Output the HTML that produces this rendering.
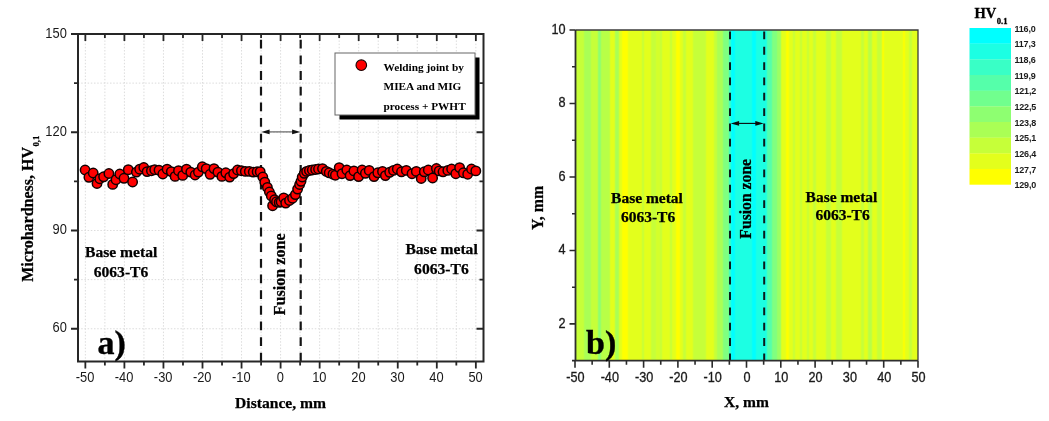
<!DOCTYPE html>
<html><head><meta charset="utf-8"><style>
html,body{margin:0;padding:0;background:#fff;width:1049px;height:421px;overflow:hidden;}
svg{display:block;filter:blur(0.3px);}
</style></head><body>
<svg width="1049" height="421" viewBox="0 0 1049 421">
<rect width="1049" height="421" fill="#fff"/>
<path d="M85.35 34 V361.5 M104.88 34 V361.5 M124.40 34 V361.5 M143.93 34 V361.5 M163.45 34 V361.5 M182.98 34 V361.5 M202.50 34 V361.5 M222.03 34 V361.5 M241.55 34 V361.5 M261.08 34 V361.5 M280.60 34 V361.5 M300.12 34 V361.5 M319.65 34 V361.5 M339.18 34 V361.5 M358.70 34 V361.5 M378.23 34 V361.5 M397.75 34 V361.5 M417.27 34 V361.5 M436.80 34 V361.5 M456.33 34 V361.5 M475.85 34 V361.5 M78 83.12 H483.5 M78 132.25 H483.5 M78 181.38 H483.5 M78 230.50 H483.5 M78 279.62 H483.5 M78 328.75 H483.5" stroke="#dcdcdc" stroke-width="1" stroke-dasharray="1.5 1.7" fill="none"/><line x1="261.0" y1="34" x2="261.0" y2="361.5" stroke="#141414" stroke-width="2.2" stroke-dasharray="8.8 6.85" stroke-dashoffset="9.85"/><line x1="300.7" y1="34" x2="300.7" y2="361.5" stroke="#141414" stroke-width="2.2" stroke-dasharray="8.8 6.85" stroke-dashoffset="9.85"/><line x1="268.6" y1="131.9" x2="293.09999999999997" y2="131.9" stroke="#555" stroke-width="1.1"/><path d="M261.3 131.9 L269.6 129.6 L269.6 134.20000000000002 Z M300.4 131.9 L292.09999999999997 129.6 L292.09999999999997 134.20000000000002 Z" fill="#111"/><g fill="#ff0000" stroke="#120000" stroke-width="1.5"><circle cx="85.1" cy="170.0" r="4.7"/><circle cx="88.9" cy="177.3" r="4.7"/><circle cx="93.2" cy="173.0" r="4.7"/><circle cx="97" cy="183.5" r="4.7"/><circle cx="99.8" cy="178.7" r="4.7"/><circle cx="103.6" cy="176.8" r="4.7"/><circle cx="108.9" cy="173.5" r="4.7"/><circle cx="112.7" cy="184.4" r="4.7"/><circle cx="116" cy="179.7" r="4.7"/><circle cx="119.8" cy="174" r="4.7"/><circle cx="124" cy="178.3" r="4.7"/><circle cx="128.3" cy="169.7" r="4.7"/><circle cx="132.6" cy="182" r="4.7"/><circle cx="136.4" cy="172.1" r="4.7"/><circle cx="139.7" cy="169.2" r="4.7"/><circle cx="143.8" cy="167.5" r="4.7"/><circle cx="147.1" cy="171.6" r="4.7"/><circle cx="151.4" cy="170.7" r="4.7"/><circle cx="154.7" cy="169.7" r="4.7"/><circle cx="159" cy="170.2" r="4.7"/><circle cx="162.8" cy="174" r="4.7"/><circle cx="167.1" cy="169.2" r="4.7"/><circle cx="171.3" cy="171.6" r="4.7"/><circle cx="175.1" cy="176.4" r="4.7"/><circle cx="178.5" cy="170.7" r="4.7"/><circle cx="182.7" cy="175.4" r="4.7"/><circle cx="186.5" cy="169.2" r="4.7"/><circle cx="190.8" cy="172.1" r="4.7"/><circle cx="195.1" cy="175" r="4.7"/><circle cx="198.4" cy="172.1" r="4.7"/><circle cx="202.3" cy="166.8" r="4.7"/><circle cx="206.2" cy="168.6" r="4.7"/><circle cx="210.1" cy="174.3" r="4.7"/><circle cx="214" cy="168.6" r="4.7"/><circle cx="217.9" cy="172.1" r="4.7"/><circle cx="221.9" cy="176.4" r="4.7"/><circle cx="225.8" cy="172.8" r="4.7"/><circle cx="229.7" cy="177.1" r="4.7"/><circle cx="233.6" cy="173.6" r="4.7"/><circle cx="237.5" cy="170" r="4.7"/><circle cx="241.4" cy="170.7" r="4.7"/><circle cx="245.3" cy="171.4" r="4.7"/><circle cx="249.3" cy="171.4" r="4.7"/><circle cx="253.2" cy="172.1" r="4.7"/><circle cx="257.1" cy="171.8" r="4.7"/><circle cx="260.2" cy="171.7" r="4.7"/><circle cx="262.8" cy="177" r="4.7"/><circle cx="264.8" cy="182.2" r="4.7"/><circle cx="267.4" cy="187.4" r="4.7"/><circle cx="269.4" cy="192" r="4.7"/><circle cx="271.3" cy="195.9" r="4.7"/><circle cx="272.6" cy="205.7" r="4.7"/><circle cx="274.6" cy="199.8" r="4.7"/><circle cx="276.5" cy="201.8" r="4.7"/><circle cx="279.2" cy="202.4" r="4.7"/><circle cx="281.1" cy="201.8" r="4.7"/><circle cx="283.7" cy="197.9" r="4.7"/><circle cx="285.7" cy="203.1" r="4.7"/><circle cx="289.5" cy="200.5" r="4.7"/><circle cx="292.6" cy="198.2" r="4.7"/><circle cx="295.4" cy="194.6" r="4.7"/><circle cx="297.6" cy="189.1" r="4.7"/><circle cx="299.6" cy="184.5" r="4.7"/><circle cx="301.0" cy="181.3" r="4.7"/><circle cx="302.2" cy="177" r="4.7"/><circle cx="304.3" cy="173.3" r="4.7"/><circle cx="306.6" cy="171.4" r="4.7"/><circle cx="309.4" cy="170.5" r="4.7"/><circle cx="312.3" cy="170" r="4.7"/><circle cx="315.6" cy="169.5" r="4.7"/><circle cx="318.5" cy="169" r="4.7"/><circle cx="322.5" cy="168.6" r="4.7"/><circle cx="326.3" cy="171.4" r="4.7"/><circle cx="329.2" cy="172.8" r="4.7"/><circle cx="333" cy="174.2" r="4.7"/><circle cx="335.4" cy="175.2" r="4.7"/><circle cx="339.2" cy="167.6" r="4.7"/><circle cx="342" cy="173.7" r="4.7"/><circle cx="346.8" cy="170" r="4.7"/><circle cx="350.1" cy="175.6" r="4.7"/><circle cx="353.9" cy="170.9" r="4.7"/><circle cx="358.6" cy="176.6" r="4.7"/><circle cx="362.1" cy="170" r="4.7"/><circle cx="365.4" cy="173.3" r="4.7"/><circle cx="369.2" cy="170.4" r="4.7"/><circle cx="374" cy="176.6" r="4.7"/><circle cx="377.8" cy="172.8" r="4.7"/><circle cx="382.5" cy="171.4" r="4.7"/><circle cx="385.4" cy="175.6" r="4.7"/><circle cx="389.7" cy="172.3" r="4.7"/><circle cx="393.5" cy="170.4" r="4.7"/><circle cx="397.3" cy="169" r="4.7"/><circle cx="401.5" cy="171.8" r="4.7"/><circle cx="406.3" cy="170.4" r="4.7"/><circle cx="412" cy="173.7" r="4.7"/><circle cx="416.3" cy="171.4" r="4.7"/><circle cx="421.2" cy="178.5" r="4.7"/><circle cx="424.3" cy="171.8" r="4.7"/><circle cx="428.3" cy="170" r="4.7"/><circle cx="432.6" cy="178" r="4.7"/><circle cx="436.4" cy="168.5" r="4.7"/><circle cx="439.2" cy="170.9" r="4.7"/><circle cx="443" cy="171.8" r="4.7"/><circle cx="447.8" cy="170.4" r="4.7"/><circle cx="451.6" cy="169" r="4.7"/><circle cx="455.8" cy="173.7" r="4.7"/><circle cx="459.6" cy="167.6" r="4.7"/><circle cx="463.4" cy="172.8" r="4.7"/><circle cx="467.7" cy="174.2" r="4.7"/><circle cx="471.5" cy="169" r="4.7"/><circle cx="475.8" cy="170.9" r="4.7"/></g><rect x="78" y="34" width="405.5" height="327.5" fill="none" stroke="#262626" stroke-width="2"/><path d="M85.35 361.5 v7 M85.35 34 v7 M104.88 361.5 v4 M104.88 34 v4 M124.40 361.5 v7 M124.40 34 v7 M143.93 361.5 v4 M143.93 34 v4 M163.45 361.5 v7 M163.45 34 v7 M182.98 361.5 v4 M182.98 34 v4 M202.50 361.5 v7 M202.50 34 v7 M222.03 361.5 v4 M222.03 34 v4 M241.55 361.5 v7 M241.55 34 v7 M261.08 361.5 v4 M261.08 34 v4 M280.60 361.5 v7 M280.60 34 v7 M300.12 361.5 v4 M300.12 34 v4 M319.65 361.5 v7 M319.65 34 v7 M339.18 361.5 v4 M339.18 34 v4 M358.70 361.5 v7 M358.70 34 v7 M378.23 361.5 v4 M378.23 34 v4 M397.75 361.5 v7 M397.75 34 v7 M417.27 361.5 v4 M417.27 34 v4 M436.80 361.5 v7 M436.80 34 v7 M456.33 361.5 v4 M456.33 34 v4 M475.85 361.5 v7 M475.85 34 v7 M78 34.00 h-7 M483.5 34.00 h-7 M78 83.12 h-4 M483.5 83.12 h-4 M78 132.25 h-7 M483.5 132.25 h-7 M78 181.38 h-4 M483.5 181.38 h-4 M78 230.50 h-7 M483.5 230.50 h-7 M78 279.62 h-4 M483.5 279.62 h-4 M78 328.75 h-7 M483.5 328.75 h-7" stroke="#262626" stroke-width="1.8" fill="none"/><g font-family='"Liberation Sans", sans-serif' font-size="14" fill="#1a1a1a"><text transform="translate(85.05 382.2) scale(0.92 1)" text-anchor="middle">-50</text><text transform="translate(124.10 382.2) scale(0.92 1)" text-anchor="middle">-40</text><text transform="translate(163.15 382.2) scale(0.92 1)" text-anchor="middle">-30</text><text transform="translate(202.20 382.2) scale(0.92 1)" text-anchor="middle">-20</text><text transform="translate(241.25 382.2) scale(0.92 1)" text-anchor="middle">-10</text><text transform="translate(280.30 382.2) scale(0.92 1)" text-anchor="middle">0</text><text transform="translate(319.35 382.2) scale(0.92 1)" text-anchor="middle">10</text><text transform="translate(358.40 382.2) scale(0.92 1)" text-anchor="middle">20</text><text transform="translate(397.45 382.2) scale(0.92 1)" text-anchor="middle">30</text><text transform="translate(436.50 382.2) scale(0.92 1)" text-anchor="middle">40</text><text transform="translate(475.55 382.2) scale(0.92 1)" text-anchor="middle">50</text><text transform="translate(66.8 37.50) scale(0.92 1)" text-anchor="end">150</text><text transform="translate(66.8 135.75) scale(0.92 1)" text-anchor="end">120</text><text transform="translate(66.8 234.00) scale(0.92 1)" text-anchor="end">90</text><text transform="translate(66.8 332.25) scale(0.92 1)" text-anchor="end">60</text></g><rect x="339.5" y="57.5" width="140" height="62" fill="#000"/><rect x="335" y="53" width="140" height="62" fill="#fff" stroke="#666" stroke-width="1"/><circle cx="361.3" cy="65.2" r="5.3" fill="#ff0000" stroke="#160000" stroke-width="1.1"/><g font-family='"Liberation Serif", serif' font-weight="bold" font-size="11.3" fill="#000"><text x="383.5" y="70.9">Welding joint by</text><text x="383.5" y="89.8">MIEA and MIG</text><text x="383.5" y="109.6">process + PWHT</text></g><g font-family='"Liberation Serif", serif' font-weight="bold" font-size="15.6" fill="#000" stroke="#000" stroke-width="0.25" text-anchor="middle"><text x="121.2" y="257.2">Base metal</text><text x="121" y="276.6">6063-T6</text><text x="441.6" y="254.2">Base metal</text><text x="441.4" y="273.6">6063-T6</text><text transform="translate(285 274.3) rotate(-90)" x="0" y="0" font-size="16.1">Fusion zone</text><text x="280.6" y="407.9">Distance, mm</text></g><text x="97.4" y="354.2" font-family='"Liberation Serif", serif' font-weight="bold" font-size="34" fill="#000" stroke="#000" stroke-width="0.4">a)</text><text transform="translate(33 281.8) rotate(-90)" font-family='"Liberation Serif", serif' font-weight="bold" font-size="16" fill="#000" stroke="#000" stroke-width="0.25">Microhardness, HV<tspan font-size="8.8" dy="5.6" dx="0.4">0,1</tspan></text><g shape-rendering="crispEdges"><rect x="575.5" y="30" width="0.80" height="330.7" fill="#c6ff39"/><rect x="576" y="30" width="1.30" height="330.7" fill="#c6ff39"/><rect x="577" y="30" width="1.30" height="330.7" fill="#c6ff39"/><rect x="578" y="30" width="1.30" height="330.7" fill="#c6ff39"/><rect x="579" y="30" width="1.30" height="330.7" fill="#c6ff39"/><rect x="580" y="30" width="1.30" height="330.7" fill="#c6ff39"/><rect x="581" y="30" width="1.30" height="330.7" fill="#c6ff39"/><rect x="582" y="30" width="1.30" height="330.7" fill="#c6ff39"/><rect x="583" y="30" width="1.30" height="330.7" fill="#c1ff3e"/><rect x="584" y="30" width="1.30" height="330.7" fill="#b0ff4f"/><rect x="585" y="30" width="1.30" height="330.7" fill="#aaff55"/><rect x="586" y="30" width="1.30" height="330.7" fill="#aaff55"/><rect x="587" y="30" width="1.30" height="330.7" fill="#aaff55"/><rect x="588" y="30" width="1.30" height="330.7" fill="#aaff55"/><rect x="589" y="30" width="1.30" height="330.7" fill="#aaff55"/><rect x="590" y="30" width="1.30" height="330.7" fill="#b0ff4f"/><rect x="591" y="30" width="1.30" height="330.7" fill="#c1ff3e"/><rect x="592" y="30" width="1.30" height="330.7" fill="#c6ff39"/><rect x="593" y="30" width="1.30" height="330.7" fill="#c6ff39"/><rect x="594" y="30" width="1.30" height="330.7" fill="#c6ff39"/><rect x="595" y="30" width="1.30" height="330.7" fill="#c6ff39"/><rect x="596" y="30" width="1.30" height="330.7" fill="#c6ff39"/><rect x="597" y="30" width="1.30" height="330.7" fill="#bbff44"/><rect x="598" y="30" width="1.30" height="330.7" fill="#99ff66"/><rect x="599" y="30" width="1.30" height="330.7" fill="#8eff71"/><rect x="600" y="30" width="1.30" height="330.7" fill="#96ff69"/><rect x="601" y="30" width="1.30" height="330.7" fill="#b0ff4f"/><rect x="602" y="30" width="1.30" height="330.7" fill="#b8ff47"/><rect x="603" y="30" width="1.30" height="330.7" fill="#b8ff47"/><rect x="604" y="30" width="1.30" height="330.7" fill="#b8ff47"/><rect x="605" y="30" width="1.30" height="330.7" fill="#b8ff47"/><rect x="606" y="30" width="1.30" height="330.7" fill="#b8ff47"/><rect x="607" y="30" width="1.30" height="330.7" fill="#b8ff47"/><rect x="608" y="30" width="1.30" height="330.7" fill="#b8ff47"/><rect x="609" y="30" width="1.30" height="330.7" fill="#c1ff3e"/><rect x="610" y="30" width="1.30" height="330.7" fill="#daff25"/><rect x="611" y="30" width="1.30" height="330.7" fill="#e3ff1c"/><rect x="612" y="30" width="1.30" height="330.7" fill="#e3ff1c"/><rect x="613" y="30" width="1.30" height="330.7" fill="#e3ff1c"/><rect x="614" y="30" width="1.30" height="330.7" fill="#d7ff28"/><rect x="615" y="30" width="1.30" height="330.7" fill="#b5ff4a"/><rect x="616" y="30" width="1.30" height="330.7" fill="#aaff55"/><rect x="617" y="30" width="1.30" height="330.7" fill="#aaff55"/><rect x="618" y="30" width="1.30" height="330.7" fill="#b5ff4a"/><rect x="619" y="30" width="1.30" height="330.7" fill="#d7ff28"/><rect x="620" y="30" width="1.30" height="330.7" fill="#e3ff1c"/><rect x="621" y="30" width="1.30" height="330.7" fill="#e8ff17"/><rect x="622" y="30" width="1.30" height="330.7" fill="#f9ff06"/><rect x="623" y="30" width="1.30" height="330.7" fill="#ffff00"/><rect x="624" y="30" width="1.30" height="330.7" fill="#ffff00"/><rect x="625" y="30" width="1.30" height="330.7" fill="#ffff00"/><rect x="626" y="30" width="1.30" height="330.7" fill="#ffff00"/><rect x="627" y="30" width="1.30" height="330.7" fill="#f9ff06"/><rect x="628" y="30" width="1.30" height="330.7" fill="#e8ff17"/><rect x="629" y="30" width="1.30" height="330.7" fill="#e3ff1c"/><rect x="630" y="30" width="1.30" height="330.7" fill="#e3ff1c"/><rect x="631" y="30" width="1.30" height="330.7" fill="#e3ff1c"/><rect x="632" y="30" width="1.30" height="330.7" fill="#e3ff1c"/><rect x="633" y="30" width="1.30" height="330.7" fill="#e3ff1c"/><rect x="634" y="30" width="1.30" height="330.7" fill="#e3ff1c"/><rect x="635" y="30" width="1.30" height="330.7" fill="#e3ff1c"/><rect x="636" y="30" width="1.30" height="330.7" fill="#e3ff1c"/><rect x="637" y="30" width="1.30" height="330.7" fill="#e3ff1c"/><rect x="638" y="30" width="1.30" height="330.7" fill="#e3ff1c"/><rect x="639" y="30" width="1.30" height="330.7" fill="#e3ff1c"/><rect x="640" y="30" width="1.30" height="330.7" fill="#e3ff1c"/><rect x="641" y="30" width="1.30" height="330.7" fill="#ddff22"/><rect x="642" y="30" width="1.30" height="330.7" fill="#ccff33"/><rect x="643" y="30" width="1.30" height="330.7" fill="#ccff33"/><rect x="644" y="30" width="1.30" height="330.7" fill="#ddff22"/><rect x="645" y="30" width="1.30" height="330.7" fill="#e3ff1c"/><rect x="646" y="30" width="1.30" height="330.7" fill="#e3ff1c"/><rect x="647" y="30" width="1.30" height="330.7" fill="#e3ff1c"/><rect x="648" y="30" width="1.30" height="330.7" fill="#e3ff1c"/><rect x="649" y="30" width="1.30" height="330.7" fill="#e3ff1c"/><rect x="650" y="30" width="1.30" height="330.7" fill="#ddff22"/><rect x="651" y="30" width="1.30" height="330.7" fill="#ccff33"/><rect x="652" y="30" width="1.30" height="330.7" fill="#c6ff39"/><rect x="653" y="30" width="1.30" height="330.7" fill="#c6ff39"/><rect x="654" y="30" width="1.30" height="330.7" fill="#c6ff39"/><rect x="655" y="30" width="1.30" height="330.7" fill="#c9ff36"/><rect x="656" y="30" width="1.30" height="330.7" fill="#d2ff2d"/><rect x="657" y="30" width="1.30" height="330.7" fill="#d4ff2a"/><rect x="658" y="30" width="1.30" height="330.7" fill="#d4ff2a"/><rect x="659" y="30" width="1.30" height="330.7" fill="#d2ff2d"/><rect x="660" y="30" width="1.30" height="330.7" fill="#c9ff36"/><rect x="661" y="30" width="1.30" height="330.7" fill="#ccff33"/><rect x="662" y="30" width="1.30" height="330.7" fill="#ddff22"/><rect x="663" y="30" width="1.30" height="330.7" fill="#e3ff1c"/><rect x="664" y="30" width="1.30" height="330.7" fill="#e3ff1c"/><rect x="665" y="30" width="1.30" height="330.7" fill="#e3ff1c"/><rect x="666" y="30" width="1.30" height="330.7" fill="#e3ff1c"/><rect x="667" y="30" width="1.30" height="330.7" fill="#e3ff1c"/><rect x="668" y="30" width="1.30" height="330.7" fill="#e3ff1c"/><rect x="669" y="30" width="1.30" height="330.7" fill="#ddff22"/><rect x="670" y="30" width="1.30" height="330.7" fill="#ccff33"/><rect x="671" y="30" width="1.30" height="330.7" fill="#ccff33"/><rect x="672" y="30" width="1.30" height="330.7" fill="#ddff22"/><rect x="673" y="30" width="1.30" height="330.7" fill="#e3ff1c"/><rect x="674" y="30" width="1.30" height="330.7" fill="#e3ff1c"/><rect x="675" y="30" width="1.30" height="330.7" fill="#e8ff17"/><rect x="676" y="30" width="1.30" height="330.7" fill="#f9ff06"/><rect x="677" y="30" width="1.30" height="330.7" fill="#ffff00"/><rect x="678" y="30" width="1.30" height="330.7" fill="#ffff00"/><rect x="679" y="30" width="1.30" height="330.7" fill="#f9ff06"/><rect x="680" y="30" width="1.30" height="330.7" fill="#e8ff17"/><rect x="681" y="30" width="1.30" height="330.7" fill="#e3ff1c"/><rect x="682" y="30" width="1.30" height="330.7" fill="#ddff22"/><rect x="683" y="30" width="1.30" height="330.7" fill="#ccff33"/><rect x="684" y="30" width="1.30" height="330.7" fill="#c6ff39"/><rect x="685" y="30" width="1.30" height="330.7" fill="#ccff33"/><rect x="686" y="30" width="1.30" height="330.7" fill="#ddff22"/><rect x="687" y="30" width="1.30" height="330.7" fill="#e3ff1c"/><rect x="688" y="30" width="1.30" height="330.7" fill="#e3ff1c"/><rect x="689" y="30" width="1.30" height="330.7" fill="#e3ff1c"/><rect x="690" y="30" width="1.30" height="330.7" fill="#e3ff1c"/><rect x="691" y="30" width="1.30" height="330.7" fill="#e3ff1c"/><rect x="692" y="30" width="1.30" height="330.7" fill="#ddff22"/><rect x="693" y="30" width="1.30" height="330.7" fill="#ccff33"/><rect x="694" y="30" width="1.30" height="330.7" fill="#c6ff39"/><rect x="695" y="30" width="1.30" height="330.7" fill="#c6ff39"/><rect x="696" y="30" width="1.30" height="330.7" fill="#c6ff39"/><rect x="697" y="30" width="1.30" height="330.7" fill="#c6ff39"/><rect x="698" y="30" width="1.30" height="330.7" fill="#c6ff39"/><rect x="699" y="30" width="1.30" height="330.7" fill="#c6ff39"/><rect x="700" y="30" width="1.30" height="330.7" fill="#c6ff39"/><rect x="701" y="30" width="1.30" height="330.7" fill="#c6ff39"/><rect x="702" y="30" width="1.30" height="330.7" fill="#c6ff39"/><rect x="703" y="30" width="1.30" height="330.7" fill="#c6ff39"/><rect x="704" y="30" width="1.30" height="330.7" fill="#c6ff39"/><rect x="705" y="30" width="1.30" height="330.7" fill="#ccff33"/><rect x="706" y="30" width="1.30" height="330.7" fill="#ddff22"/><rect x="707" y="30" width="1.30" height="330.7" fill="#e3ff1c"/><rect x="708" y="30" width="1.30" height="330.7" fill="#e3ff1c"/><rect x="709" y="30" width="1.30" height="330.7" fill="#e3ff1c"/><rect x="710" y="30" width="1.30" height="330.7" fill="#e3ff1c"/><rect x="711" y="30" width="1.30" height="330.7" fill="#e3ff1c"/><rect x="712" y="30" width="1.30" height="330.7" fill="#e3ff1c"/><rect x="713" y="30" width="1.30" height="330.7" fill="#ddff22"/><rect x="714" y="30" width="1.30" height="330.7" fill="#ccff33"/><rect x="715" y="30" width="1.30" height="330.7" fill="#c6ff39"/><rect x="716" y="30" width="1.30" height="330.7" fill="#c1ff3e"/><rect x="717" y="30" width="1.30" height="330.7" fill="#b0ff4f"/><rect x="718" y="30" width="1.30" height="330.7" fill="#aaff55"/><rect x="719" y="30" width="1.30" height="330.7" fill="#aaff55"/><rect x="720" y="30" width="1.30" height="330.7" fill="#aaff55"/><rect x="721" y="30" width="1.30" height="330.7" fill="#aaff55"/><rect x="722" y="30" width="1.30" height="330.7" fill="#a2ff5e"/><rect x="723" y="30" width="1.30" height="330.7" fill="#88ff77"/><rect x="724" y="30" width="1.30" height="330.7" fill="#80ff80"/><rect x="725" y="30" width="1.30" height="330.7" fill="#80ff80"/><rect x="726" y="30" width="1.30" height="330.7" fill="#80ff80"/><rect x="727" y="30" width="1.30" height="330.7" fill="#80ff80"/><rect x="728" y="30" width="1.30" height="330.7" fill="#71ff8e"/><rect x="729" y="30" width="1.30" height="330.7" fill="#47ffb8"/><rect x="730" y="30" width="1.30" height="330.7" fill="#2dffd2"/><rect x="731" y="30" width="1.30" height="330.7" fill="#0bfff4"/><rect x="732" y="30" width="1.30" height="330.7" fill="#00ffff"/><rect x="733" y="30" width="1.30" height="330.7" fill="#00ffff"/><rect x="734" y="30" width="1.30" height="330.7" fill="#06fff9"/><rect x="735" y="30" width="1.30" height="330.7" fill="#17ffe8"/><rect x="736" y="30" width="1.30" height="330.7" fill="#1cffe3"/><rect x="737" y="30" width="1.30" height="330.7" fill="#1cffe3"/><rect x="738" y="30" width="1.30" height="330.7" fill="#1cffe3"/><rect x="739" y="30" width="1.30" height="330.7" fill="#1cffe3"/><rect x="740" y="30" width="1.30" height="330.7" fill="#1cffe3"/><rect x="741" y="30" width="1.30" height="330.7" fill="#1cffe3"/><rect x="742" y="30" width="1.30" height="330.7" fill="#1cffe3"/><rect x="743" y="30" width="1.30" height="330.7" fill="#1cffe3"/><rect x="744" y="30" width="1.30" height="330.7" fill="#1cffe3"/><rect x="745" y="30" width="1.30" height="330.7" fill="#1cffe3"/><rect x="746" y="30" width="1.30" height="330.7" fill="#1cffe3"/><rect x="747" y="30" width="1.30" height="330.7" fill="#1cffe3"/><rect x="748" y="30" width="1.30" height="330.7" fill="#1cffe3"/><rect x="749" y="30" width="1.30" height="330.7" fill="#1cffe3"/><rect x="750" y="30" width="1.30" height="330.7" fill="#1cffe3"/><rect x="751" y="30" width="1.30" height="330.7" fill="#17ffe8"/><rect x="752" y="30" width="1.30" height="330.7" fill="#06fff9"/><rect x="753" y="30" width="1.30" height="330.7" fill="#00ffff"/><rect x="754" y="30" width="1.30" height="330.7" fill="#00ffff"/><rect x="755" y="30" width="1.30" height="330.7" fill="#06fff9"/><rect x="756" y="30" width="1.30" height="330.7" fill="#17ffe8"/><rect x="757" y="30" width="1.30" height="330.7" fill="#1cffe3"/><rect x="758" y="30" width="1.30" height="330.7" fill="#1cffe3"/><rect x="759" y="30" width="1.30" height="330.7" fill="#1cffe3"/><rect x="760" y="30" width="1.30" height="330.7" fill="#1cffe3"/><rect x="761" y="30" width="1.30" height="330.7" fill="#1cffe3"/><rect x="762" y="30" width="1.30" height="330.7" fill="#1cffe3"/><rect x="763" y="30" width="1.30" height="330.7" fill="#1cffe3"/><rect x="764" y="30" width="1.30" height="330.7" fill="#1cffe3"/><rect x="765" y="30" width="1.30" height="330.7" fill="#1cffe3"/><rect x="766" y="30" width="1.30" height="330.7" fill="#28ffd7"/><rect x="767" y="30" width="1.30" height="330.7" fill="#4affb5"/><rect x="768" y="30" width="1.30" height="330.7" fill="#55ffaa"/><rect x="769" y="30" width="1.30" height="330.7" fill="#55ffaa"/><rect x="770" y="30" width="1.30" height="330.7" fill="#55ffaa"/><rect x="771" y="30" width="1.30" height="330.7" fill="#5effa2"/><rect x="772" y="30" width="1.30" height="330.7" fill="#77ff88"/><rect x="773" y="30" width="1.30" height="330.7" fill="#80ff80"/><rect x="774" y="30" width="1.30" height="330.7" fill="#80ff80"/><rect x="775" y="30" width="1.30" height="330.7" fill="#80ff80"/><rect x="776" y="30" width="1.30" height="330.7" fill="#85ff7a"/><rect x="777" y="30" width="1.30" height="330.7" fill="#96ff69"/><rect x="778" y="30" width="1.30" height="330.7" fill="#9cff63"/><rect x="779" y="30" width="1.30" height="330.7" fill="#9cff63"/><rect x="780" y="30" width="1.30" height="330.7" fill="#aaff55"/><rect x="781" y="30" width="1.30" height="330.7" fill="#d4ff2a"/><rect x="782" y="30" width="1.30" height="330.7" fill="#e3ff1c"/><rect x="783" y="30" width="1.30" height="330.7" fill="#e3ff1c"/><rect x="784" y="30" width="1.30" height="330.7" fill="#e3ff1c"/><rect x="785" y="30" width="1.30" height="330.7" fill="#e8ff17"/><rect x="786" y="30" width="1.30" height="330.7" fill="#f9ff06"/><rect x="787" y="30" width="1.30" height="330.7" fill="#ffff00"/><rect x="788" y="30" width="1.30" height="330.7" fill="#f9ff06"/><rect x="789" y="30" width="1.30" height="330.7" fill="#e8ff17"/><rect x="790" y="30" width="1.30" height="330.7" fill="#e3ff1c"/><rect x="791" y="30" width="1.30" height="330.7" fill="#e3ff1c"/><rect x="792" y="30" width="1.30" height="330.7" fill="#ddff22"/><rect x="793" y="30" width="1.30" height="330.7" fill="#ccff33"/><rect x="794" y="30" width="1.30" height="330.7" fill="#ccff33"/><rect x="795" y="30" width="1.30" height="330.7" fill="#ddff22"/><rect x="796" y="30" width="1.30" height="330.7" fill="#e3ff1c"/><rect x="797" y="30" width="1.30" height="330.7" fill="#e3ff1c"/><rect x="798" y="30" width="1.30" height="330.7" fill="#e3ff1c"/><rect x="799" y="30" width="1.30" height="330.7" fill="#ddff22"/><rect x="800" y="30" width="1.30" height="330.7" fill="#ccff33"/><rect x="801" y="30" width="1.30" height="330.7" fill="#ccff33"/><rect x="802" y="30" width="1.30" height="330.7" fill="#ddff22"/><rect x="803" y="30" width="1.30" height="330.7" fill="#e3ff1c"/><rect x="804" y="30" width="1.30" height="330.7" fill="#e3ff1c"/><rect x="805" y="30" width="1.30" height="330.7" fill="#e3ff1c"/><rect x="806" y="30" width="1.30" height="330.7" fill="#ddff22"/><rect x="807" y="30" width="1.30" height="330.7" fill="#ccff33"/><rect x="808" y="30" width="1.30" height="330.7" fill="#ccff33"/><rect x="809" y="30" width="1.30" height="330.7" fill="#ddff22"/><rect x="810" y="30" width="1.30" height="330.7" fill="#e3ff1c"/><rect x="811" y="30" width="1.30" height="330.7" fill="#e3ff1c"/><rect x="812" y="30" width="1.30" height="330.7" fill="#ddff22"/><rect x="813" y="30" width="1.30" height="330.7" fill="#ccff33"/><rect x="814" y="30" width="1.30" height="330.7" fill="#c6ff39"/><rect x="815" y="30" width="1.30" height="330.7" fill="#ccff33"/><rect x="816" y="30" width="1.30" height="330.7" fill="#ddff22"/><rect x="817" y="30" width="1.30" height="330.7" fill="#e3ff1c"/><rect x="818" y="30" width="1.30" height="330.7" fill="#e3ff1c"/><rect x="819" y="30" width="1.30" height="330.7" fill="#e3ff1c"/><rect x="820" y="30" width="1.30" height="330.7" fill="#e3ff1c"/><rect x="821" y="30" width="1.30" height="330.7" fill="#e3ff1c"/><rect x="822" y="30" width="1.30" height="330.7" fill="#e3ff1c"/><rect x="823" y="30" width="1.30" height="330.7" fill="#e3ff1c"/><rect x="824" y="30" width="1.30" height="330.7" fill="#e3ff1c"/><rect x="825" y="30" width="1.30" height="330.7" fill="#ddff22"/><rect x="826" y="30" width="1.30" height="330.7" fill="#ccff33"/><rect x="827" y="30" width="1.30" height="330.7" fill="#c6ff39"/><rect x="828" y="30" width="1.30" height="330.7" fill="#c6ff39"/><rect x="829" y="30" width="1.30" height="330.7" fill="#c6ff39"/><rect x="830" y="30" width="1.30" height="330.7" fill="#ccff33"/><rect x="831" y="30" width="1.30" height="330.7" fill="#ddff22"/><rect x="832" y="30" width="1.30" height="330.7" fill="#e3ff1c"/><rect x="833" y="30" width="1.30" height="330.7" fill="#e3ff1c"/><rect x="834" y="30" width="1.30" height="330.7" fill="#e3ff1c"/><rect x="835" y="30" width="1.30" height="330.7" fill="#ddff22"/><rect x="836" y="30" width="1.30" height="330.7" fill="#ccff33"/><rect x="837" y="30" width="1.30" height="330.7" fill="#c6ff39"/><rect x="838" y="30" width="1.30" height="330.7" fill="#c6ff39"/><rect x="839" y="30" width="1.30" height="330.7" fill="#c6ff39"/><rect x="840" y="30" width="1.30" height="330.7" fill="#c6ff39"/><rect x="841" y="30" width="1.30" height="330.7" fill="#ccff33"/><rect x="842" y="30" width="1.30" height="330.7" fill="#ddff22"/><rect x="843" y="30" width="1.30" height="330.7" fill="#e3ff1c"/><rect x="844" y="30" width="1.30" height="330.7" fill="#e3ff1c"/><rect x="845" y="30" width="1.30" height="330.7" fill="#e3ff1c"/><rect x="846" y="30" width="1.30" height="330.7" fill="#e3ff1c"/><rect x="847" y="30" width="1.30" height="330.7" fill="#e3ff1c"/><rect x="848" y="30" width="1.30" height="330.7" fill="#e3ff1c"/><rect x="849" y="30" width="1.30" height="330.7" fill="#e3ff1c"/><rect x="850" y="30" width="1.30" height="330.7" fill="#e3ff1c"/><rect x="851" y="30" width="1.30" height="330.7" fill="#e3ff1c"/><rect x="852" y="30" width="1.30" height="330.7" fill="#e3ff1c"/><rect x="853" y="30" width="1.30" height="330.7" fill="#e3ff1c"/><rect x="854" y="30" width="1.30" height="330.7" fill="#e3ff1c"/><rect x="855" y="30" width="1.30" height="330.7" fill="#e3ff1c"/><rect x="856" y="30" width="1.30" height="330.7" fill="#e3ff1c"/><rect x="857" y="30" width="1.30" height="330.7" fill="#e3ff1c"/><rect x="858" y="30" width="1.30" height="330.7" fill="#e3ff1c"/><rect x="859" y="30" width="1.30" height="330.7" fill="#e3ff1c"/><rect x="860" y="30" width="1.30" height="330.7" fill="#ddff22"/><rect x="861" y="30" width="1.30" height="330.7" fill="#ccff33"/><rect x="862" y="30" width="1.30" height="330.7" fill="#c6ff39"/><rect x="863" y="30" width="1.30" height="330.7" fill="#ccff33"/><rect x="864" y="30" width="1.30" height="330.7" fill="#ddff22"/><rect x="865" y="30" width="1.30" height="330.7" fill="#e3ff1c"/><rect x="866" y="30" width="1.30" height="330.7" fill="#e3ff1c"/><rect x="867" y="30" width="1.30" height="330.7" fill="#daff25"/><rect x="868" y="30" width="1.30" height="330.7" fill="#c1ff3e"/><rect x="869" y="30" width="1.30" height="330.7" fill="#b8ff47"/><rect x="870" y="30" width="1.30" height="330.7" fill="#b8ff47"/><rect x="871" y="30" width="1.30" height="330.7" fill="#c1ff3e"/><rect x="872" y="30" width="1.30" height="330.7" fill="#daff25"/><rect x="873" y="30" width="1.30" height="330.7" fill="#e3ff1c"/><rect x="874" y="30" width="1.30" height="330.7" fill="#e3ff1c"/><rect x="875" y="30" width="1.30" height="330.7" fill="#e3ff1c"/><rect x="876" y="30" width="1.30" height="330.7" fill="#ddff22"/><rect x="877" y="30" width="1.30" height="330.7" fill="#ccff33"/><rect x="878" y="30" width="1.30" height="330.7" fill="#c6ff39"/><rect x="879" y="30" width="1.30" height="330.7" fill="#c6ff39"/><rect x="880" y="30" width="1.30" height="330.7" fill="#c6ff39"/><rect x="881" y="30" width="1.30" height="330.7" fill="#d2ff2d"/><rect x="882" y="30" width="1.30" height="330.7" fill="#f4ff0b"/><rect x="883" y="30" width="1.30" height="330.7" fill="#f9ff06"/><rect x="884" y="30" width="1.30" height="330.7" fill="#e8ff17"/><rect x="885" y="30" width="1.30" height="330.7" fill="#e3ff1c"/><rect x="886" y="30" width="1.30" height="330.7" fill="#e3ff1c"/><rect x="887" y="30" width="1.30" height="330.7" fill="#e3ff1c"/><rect x="888" y="30" width="1.30" height="330.7" fill="#e3ff1c"/><rect x="889" y="30" width="1.30" height="330.7" fill="#e3ff1c"/><rect x="890" y="30" width="1.30" height="330.7" fill="#e3ff1c"/><rect x="891" y="30" width="1.30" height="330.7" fill="#e3ff1c"/><rect x="892" y="30" width="1.30" height="330.7" fill="#e3ff1c"/><rect x="893" y="30" width="1.30" height="330.7" fill="#e3ff1c"/><rect x="894" y="30" width="1.30" height="330.7" fill="#e3ff1c"/><rect x="895" y="30" width="1.30" height="330.7" fill="#e3ff1c"/><rect x="896" y="30" width="1.30" height="330.7" fill="#e3ff1c"/><rect x="897" y="30" width="1.30" height="330.7" fill="#e3ff1c"/><rect x="898" y="30" width="1.30" height="330.7" fill="#e3ff1c"/><rect x="899" y="30" width="1.30" height="330.7" fill="#e3ff1c"/><rect x="900" y="30" width="1.30" height="330.7" fill="#e3ff1c"/><rect x="901" y="30" width="1.30" height="330.7" fill="#e3ff1c"/><rect x="902" y="30" width="1.30" height="330.7" fill="#e8ff17"/><rect x="903" y="30" width="1.30" height="330.7" fill="#f9ff06"/><rect x="904" y="30" width="1.30" height="330.7" fill="#f9ff06"/><rect x="905" y="30" width="1.30" height="330.7" fill="#e8ff17"/><rect x="906" y="30" width="1.30" height="330.7" fill="#e3ff1c"/><rect x="907" y="30" width="1.30" height="330.7" fill="#e3ff1c"/><rect x="908" y="30" width="1.30" height="330.7" fill="#ddff22"/><rect x="909" y="30" width="1.30" height="330.7" fill="#ccff33"/><rect x="910" y="30" width="1.30" height="330.7" fill="#c6ff39"/><rect x="911" y="30" width="1.30" height="330.7" fill="#ccff33"/><rect x="912" y="30" width="1.30" height="330.7" fill="#ddff22"/><rect x="913" y="30" width="1.30" height="330.7" fill="#e3ff1c"/><rect x="914" y="30" width="1.30" height="330.7" fill="#e3ff1c"/><rect x="915" y="30" width="1.30" height="330.7" fill="#e3ff1c"/><rect x="916" y="30" width="1.30" height="330.7" fill="#e3ff1c"/><rect x="917" y="30" width="1.30" height="330.7" fill="#e3ff1c"/></g><line x1="730.0" y1="30" x2="730.0" y2="360.7" stroke="#0c1a1a" stroke-width="2.0" stroke-dasharray="7.8 7.53" stroke-dashoffset="-1.5"/><line x1="764.2" y1="30" x2="764.2" y2="360.7" stroke="#0c1a1a" stroke-width="2.0" stroke-dasharray="7.8 7.53" stroke-dashoffset="-1.5"/><line x1="738.0999999999999" y1="123.4" x2="756.3000000000001" y2="123.4" stroke="#0a0a0a" stroke-width="1.1"/><path d="M730.8 123.4 L739.0999999999999 121.10000000000001 L739.0999999999999 125.7 Z M763.6 123.4 L755.3000000000001 121.10000000000001 L755.3000000000001 125.7 Z" fill="#0a0a0a"/><path d="M575.5 30 H918 V360.7" fill="none" stroke="#3c3c3c" stroke-width="1.3"/><path d="M575.5 30 V360.7 H918" fill="none" stroke="#2e2e2e" stroke-width="1.8"/><path d="M575.00 360.7 v7 M592.15 360.7 v4 M609.30 360.7 v7 M626.45 360.7 v4 M643.60 360.7 v7 M660.75 360.7 v4 M677.90 360.7 v7 M695.05 360.7 v4 M712.20 360.7 v7 M729.35 360.7 v4 M746.50 360.7 v7 M763.65 360.7 v4 M780.80 360.7 v7 M797.95 360.7 v4 M815.10 360.7 v7 M832.25 360.7 v4 M849.40 360.7 v7 M866.55 360.7 v4 M883.70 360.7 v7 M900.85 360.7 v4 M918.00 360.7 v7 M575.5 360.66 h-3.5 M575.5 323.92 h-6 M575.5 287.18 h-3.5 M575.5 250.44 h-6 M575.5 213.70 h-3.5 M575.5 176.96 h-6 M575.5 140.22 h-3.5 M575.5 103.48 h-6 M575.5 66.74 h-3.5 M575.5 30.00 h-6" stroke="#2a2a2a" stroke-width="1.6" fill="none"/><g font-family='"Liberation Sans", sans-serif' font-size="13.8" fill="#1a1a1a" stroke="#1a1a1a" stroke-width="0.3"><text transform="translate(575.50 381.9) scale(0.92 1)" text-anchor="middle">-50</text><text transform="translate(609.80 381.9) scale(0.92 1)" text-anchor="middle">-40</text><text transform="translate(644.10 381.9) scale(0.92 1)" text-anchor="middle">-30</text><text transform="translate(678.40 381.9) scale(0.92 1)" text-anchor="middle">-20</text><text transform="translate(712.70 381.9) scale(0.92 1)" text-anchor="middle">-10</text><text transform="translate(747.00 381.9) scale(0.92 1)" text-anchor="middle">0</text><text transform="translate(781.30 381.9) scale(0.92 1)" text-anchor="middle">10</text><text transform="translate(815.60 381.9) scale(0.92 1)" text-anchor="middle">20</text><text transform="translate(849.90 381.9) scale(0.92 1)" text-anchor="middle">30</text><text transform="translate(884.20 381.9) scale(0.92 1)" text-anchor="middle">40</text><text transform="translate(918.50 381.9) scale(0.92 1)" text-anchor="middle">50</text><text transform="translate(565.5 327.52) scale(0.92 1)" text-anchor="end">2</text><text transform="translate(565.5 254.04) scale(0.92 1)" text-anchor="end">4</text><text transform="translate(565.5 180.56) scale(0.92 1)" text-anchor="end">6</text><text transform="translate(565.5 107.08) scale(0.92 1)" text-anchor="end">8</text><text transform="translate(565.5 33.60) scale(0.92 1)" text-anchor="end">10</text></g><g font-family='"Liberation Serif", serif' font-weight="bold" font-size="15.5" fill="#000" stroke="#000" stroke-width="0.25" text-anchor="middle"><text x="647" y="202.8">Base metal</text><text x="648" y="221.8">6063-T6</text><text x="841.5" y="201.7">Base metal</text><text x="842.5" y="220.4">6063-T6</text><text transform="translate(750.5 198.8) rotate(-90)" font-size="15.7">Fusion zone</text><text x="746.5" y="406.5">X, mm</text><text transform="translate(542.5 208) rotate(-90)" font-size="15.8">Y, mm</text></g><text x="586" y="354.2" font-family='"Liberation Serif", serif' font-weight="bold" font-size="34" fill="#000" stroke="#000" stroke-width="0.4">b)</text><rect x="969.5" y="28" width="41.5" height="15.80" fill="#00ffff"/><rect x="969.5" y="43.6" width="41.5" height="15.90" fill="#1cffe3"/><rect x="969.5" y="59.3" width="41.5" height="15.90" fill="#39ffc6"/><rect x="969.5" y="75.0" width="41.5" height="15.90" fill="#55ffaa"/><rect x="969.5" y="90.7" width="41.5" height="15.80" fill="#71ff8e"/><rect x="969.5" y="106.3" width="41.5" height="15.90" fill="#8eff71"/><rect x="969.5" y="122.0" width="41.5" height="15.80" fill="#aaff55"/><rect x="969.5" y="137.6" width="41.5" height="15.90" fill="#c6ff39"/><rect x="969.5" y="153.3" width="41.5" height="15.80" fill="#e3ff1c"/><rect x="969.5" y="168.9" width="41.5" height="15.80" fill="#ffff00"/><g font-family='"Liberation Sans", sans-serif' font-size="9" font-weight="bold" fill="#1a1a1a" letter-spacing="-0.2"><text x="1014.5" y="31.70">116,0</text><text x="1014.5" y="47.30">117,3</text><text x="1014.5" y="63.00">118,6</text><text x="1014.5" y="78.70">119,9</text><text x="1014.5" y="94.40">121,2</text><text x="1014.5" y="110.00">122,5</text><text x="1014.5" y="125.70">123,8</text><text x="1014.5" y="141.30">125,1</text><text x="1014.5" y="157.00">126,4</text><text x="1014.5" y="172.60">127,7</text><text x="1014.5" y="188.20">129,0</text></g><text x="974.5" y="17.8" font-family='"Liberation Serif", serif' font-weight="bold" font-size="14.5" fill="#000" stroke="#000" stroke-width="0.3">HV<tspan font-size="8.6" dy="5.8" dx="0.5">0.1</tspan></text>
</svg></body></html>
